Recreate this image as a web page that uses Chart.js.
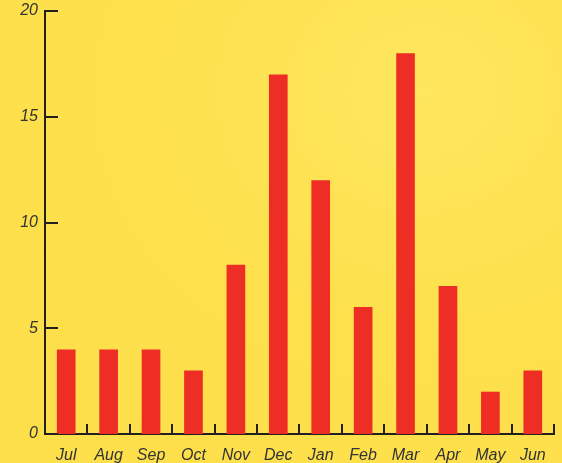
<!DOCTYPE html>
<html>
<head>
<meta charset="utf-8">
<script src="https://cdn.jsdelivr.net/npm/chart.js@4/dist/chart.umd.min.js"></script>
<style>
  html, body { margin: 0; padding: 0; }
  body {
    width: 562px; height: 463px; overflow: hidden;
    background: radial-gradient(ellipse at 75% 20%, #fee65e 0%, #fde04c 45%, #fddf4a 100%);
  }
  #wrap { position: relative; width: 562px; height: 463px; }
</style>
</head>
<body>
<div id="wrap"><canvas id="chart" width="562" height="463"></canvas></div>
<script>
document.addEventListener('DOMContentLoaded', () => {

  const months = ['Jul','Aug','Sep','Oct','Nov','Dec','Jan','Feb','Mar','Apr','May','Jun'];
  const counts = [4, 4, 4, 3, 8, 17, 12, 6, 18, 7, 2, 3];
  const yTicks = [0, 5, 10, 15, 20];

  const AXIS = '#231f20';
  const labelFont = { family: "'Liberation Sans Narrow', 'Liberation Sans', Arial, sans-serif", size: 16, style: 'italic' };

  // petites graduations dessinées vers l'intérieur
  const innerTicks = {
    id: 'innerTicks',
    afterDraw(chart) {
      const { ctx, scales: { x, y } } = chart;
      ctx.save();
      ctx.strokeStyle = AXIS;
      ctx.lineWidth = 2;
      ctx.beginPath();
      yTicks.forEach(v => {
        const py = Math.round(y.getPixelForValue(v));
        ctx.moveTo(x.left, py); ctx.lineTo(x.left + 13, py);
      });
      const step = x.getPixelForValue(1) - x.getPixelForValue(0);
      for (let i = 0; i < months.length; i++) {
        const px = Math.round(x.getPixelForValue(i) + step / 2);
        ctx.moveTo(px, y.bottom); ctx.lineTo(px, y.bottom - 10);
      }
      ctx.stroke();
      ctx.restore();
    }
  };

  new Chart(document.getElementById('chart').getContext('2d'), {
    type: 'bar',
    data: {
      labels: months,
      datasets: [{ data: counts, backgroundColor: '#ee2e24', barPercentage: 0.44, categoryPercentage: 1 }]
    },
    options: {
      responsive: false,
      animation: false,
      devicePixelRatio: 1,
      layout: { padding: { top: 11, right: 8, left: 0, bottom: 0 } },
      plugins: { legend: { display: false }, tooltip: { enabled: false } },
      scales: {
        x: {
          grid: { display: false, drawTicks: false },
          border: { color: AXIS, width: 2 },
          ticks: { color: '#333', font: labelFont, padding: 12, maxRotation: 0 },
          afterFit: s => { s.height = 29; s.paddingLeft = 0; s.paddingRight = 0; }
        },
        y: {
          min: 0, max: 20,
          afterBuildTicks: s => { s.ticks = yTicks.map(v => ({ value: v })); },
          grid: { display: false, drawTicks: false },
          border: { color: AXIS, width: 2 },
          ticks: { color: '#333', font: labelFont, padding: 7 },
          afterFit: s => { s.width = 45; s.paddingTop = 0; s.paddingBottom = 0; }
        }
      }
    },
    plugins: [innerTicks]
  });
});
</script>
</body>
</html>
